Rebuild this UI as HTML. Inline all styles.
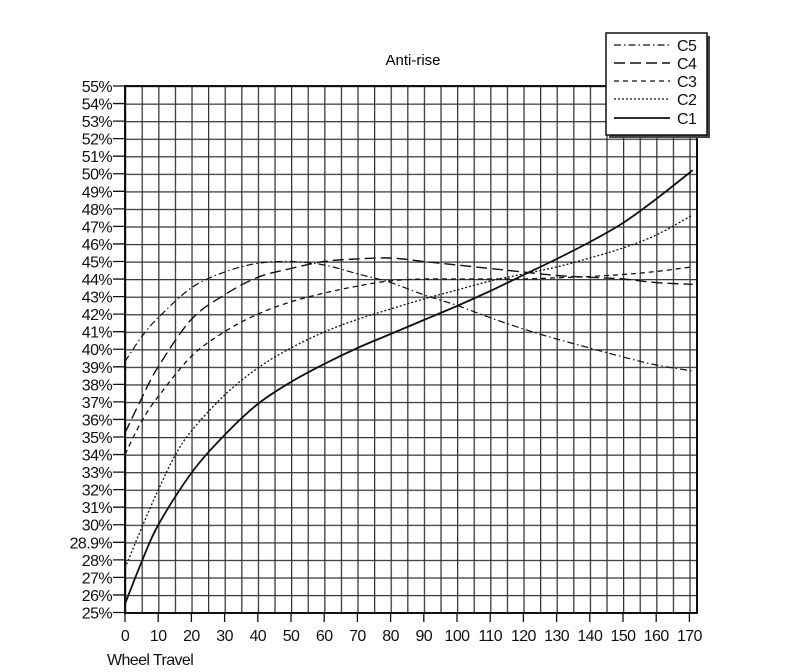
<!DOCTYPE html>
<html><head><meta charset="utf-8"><style>
html,body{margin:0;padding:0;background:#fff;}
svg{display:block;font-family:"Liberation Sans",sans-serif;}
.t{font-size:16px;letter-spacing:-0.6px;}
</style></head><body>
<svg id="s" width="800" height="672" viewBox="0 0 800 672" xmlns="http://www.w3.org/2000/svg">
<defs>
<pattern id="g" x="125" y="86" width="16.6" height="17.55" patternUnits="userSpaceOnUse">
<path d="M0.6 0V17.55M0 0.6H16.6" stroke="#333" stroke-width="1.3" fill="none"/>
</pattern>
</defs>
<rect x="0" y="0" width="800" height="672" fill="#fff"/>
<rect x="125" y="86" width="572" height="527" fill="url(#g)"/>
<rect x="125" y="86" width="572" height="527" fill="none" stroke="#111" stroke-width="2"/>
<text x="413" y="65" font-size="15" text-anchor="middle">Anti-rise</text>
<g stroke="#111" stroke-width="1.3">
<path d="M113 86H125M113 103.55H125M113 121.1H125M113 138.65H125M113 156.2H125M113 173.75H125M113 191.3H125M113 208.85H125M113 226.4H125M113 243.95H125M113 261.5H125M113 279.05H125M113 296.6H125M113 314.15H125M113 331.7H125M113 349.25H125M113 366.8H125M113 384.35H125M113 401.9H125M113 419.45H125M113 437H125M113 454.55H125M113 472.1H125M113 489.65H125M113 507.2H125M113 524.75H125M113 542.3H125M113 559.85H125M113 577.4H125M113 594.95H125M113 612.5H125"/>
<path d="M125 613V622M158.2 613V622M191.4 613V622M224.6 613V622M257.8 613V622M291 613V622M324.2 613V622M357.4 613V622M390.6 613V622M423.8 613V622M457 613V622M490.2 613V622M523.4 613V622M556.6 613V622M589.8 613V622M623 613V622M656.2 613V622M689.4 613V622"/>
</g>
<g class="t" text-anchor="end" fill="#111">
<text x="112" y="92">55%</text><text x="112" y="109.5">54%</text><text x="112" y="127">53%</text><text x="112" y="144.6">52%</text><text x="112" y="162.2">51%</text><text x="112" y="179.7">50%</text><text x="112" y="197.3">49%</text><text x="112" y="214.8">48%</text><text x="112" y="232.4">47%</text><text x="112" y="249.9">46%</text><text x="112" y="267.5">45%</text><text x="112" y="285">44%</text><text x="112" y="302.6">43%</text><text x="112" y="320.1">42%</text><text x="112" y="337.7">41%</text><text x="112" y="355.2">40%</text><text x="112" y="372.8">39%</text><text x="112" y="390.3">38%</text><text x="112" y="407.9">37%</text><text x="112" y="425.4">36%</text><text x="112" y="443">35%</text><text x="112" y="460.5">34%</text><text x="112" y="478.1">33%</text><text x="112" y="495.6">32%</text><text x="112" y="513.2">31%</text><text x="112" y="530.7">30%</text><text x="112" y="548.3">28.9%</text><text x="112" y="565.8">28%</text><text x="112" y="583.4">27%</text><text x="112" y="600.9">26%</text><text x="112" y="618.5">25%</text>
</g>
<g class="t" text-anchor="middle" fill="#111">
<text x="125" y="641">0</text><text x="158.2" y="641">10</text><text x="191.4" y="641">20</text><text x="224.6" y="641">30</text><text x="257.8" y="641">40</text><text x="291" y="641">50</text><text x="324.2" y="641">60</text><text x="357.4" y="641">70</text><text x="390.6" y="641">80</text><text x="423.8" y="641">90</text><text x="457" y="641">100</text><text x="490.2" y="641">110</text><text x="523.4" y="641">120</text><text x="556.6" y="641">130</text><text x="589.8" y="641">140</text><text x="623" y="641">150</text><text x="656.2" y="641">160</text><text x="689.4" y="641">170</text>
</g>
<text x="107" y="665" class="t" fill="#111">Wheel Travel</text>
<g fill="none" stroke="#111" stroke-linejoin="round">
<polyline class="c" stroke-width="1.8" points="125,604 141.6,562 158.2,525 191.4,473 224.6,435 257.8,404 291,382 324.2,364 357.4,348 390.6,334 423.8,320 457,306 490.2,291 523.4,275 556.6,259 589.8,242 623,223 656.2,199 692.7,170.2"/>
<polyline class="c" stroke-width="1.3" stroke-dasharray="2,2" points="125,568 141.6,528 158.2,490 174.8,456 191.4,431 224.6,395 257.8,368 291,348 324.2,332 357.4,319.4 390.6,309 423.8,299 457,290 490.2,281 523.4,274 556.6,267 589.8,258 623,248 656.2,235 692.7,215"/>
<polyline class="c" stroke-width="1.3" stroke-dasharray="5,4" points="125,454.5 141.6,421.2 158.2,396.6 191.4,356.3 224.6,331.7 257.8,314.1 291,301.8 324.2,293.1 357.4,286.1 390.6,280.8 423.8,279 457,279 490.2,279 523.4,279 556.6,277.8 589.8,276.5 623,274.5 656.2,271.5 692.7,266.8"/>
<polyline class="c" stroke-width="1.4" stroke-dasharray="11,5" points="125,433 141.6,398.4 158.2,366.8 191.4,319.4 224.6,294.8 257.8,277.3 291,268.5 324.2,261.5 357.4,258.9 390.6,258 423.8,261.5 457,265 490.2,268.5 523.4,272 556.6,275.5 589.8,277.3 623,279 656.2,282.6 692.7,284.3"/>
<polyline class="c" stroke-width="1.2" stroke-dasharray="7,3,1.5,3" points="125,361.5 141.6,336.9 158.2,317.7 191.4,287.8 224.6,272 257.8,263.3 291,261.5 324.2,265 357.4,273.8 390.6,282.6 423.8,294.8 457,305.4 490.2,317.7 523.4,329 556.6,339 589.8,348 623,357 656.2,365 692.7,371"/>
</g>
<rect x="609" y="36" width="101" height="102" fill="#444"/>
<rect x="606" y="33" width="101" height="102" fill="#fff" stroke="#111" stroke-width="1.5"/>
<g fill="none" stroke="#111">
<line x1="614" y1="45" x2="670" y2="45" stroke-width="1.2" stroke-dasharray="7,3,1.5,3"/>
<line x1="614" y1="63" x2="670" y2="63" stroke-width="1.4" stroke-dasharray="11,5"/>
<line x1="614" y1="81" x2="670" y2="81" stroke-width="1.3" stroke-dasharray="5,4"/>
<line x1="614" y1="99" x2="670" y2="99" stroke-width="1.3" stroke-dasharray="2,2"/>
<line x1="614" y1="118" x2="670" y2="118" stroke-width="1.8"/>
</g>
<g class="t" fill="#111">
<text x="677" y="51">C5</text><text x="677" y="69">C4</text><text x="677" y="87">C3</text><text x="677" y="105">C2</text><text x="677" y="124">C1</text>
</g>
</svg>
<script>
(function(){
var ns="http://www.w3.org/2000/svg";
var pls=document.querySelectorAll("polyline.c");
for(var k=0;k<pls.length;k++){
var pl=pls[k];
var pts=pl.getAttribute("points").trim().split(/\s+/).map(function(s){var a=s.split(",");return [+a[0],+a[1]];});
var d="M"+pts[0][0]+" "+pts[0][1];
for(var i=0;i<pts.length-1;i++){
var p0=pts[i>0?i-1:i],p1=pts[i],p2=pts[i+1],p3=pts[i+2<pts.length?i+2:i+1];
var c1x=p1[0]+(p2[0]-p0[0])/6,c1y=p1[1]+(p2[1]-p0[1])/6;
var c2x=p2[0]-(p3[0]-p1[0])/6,c2y=p2[1]-(p3[1]-p1[1])/6;
d+=" C"+c1x.toFixed(2)+" "+c1y.toFixed(2)+" "+c2x.toFixed(2)+" "+c2y.toFixed(2)+" "+p2[0]+" "+p2[1];
}
var p=document.createElementNS(ns,"path");
p.setAttribute("d",d);
["stroke-width","stroke-dasharray"].forEach(function(a){var v=pl.getAttribute(a);if(v)p.setAttribute(a,v);});
pl.parentNode.replaceChild(p,pl);
}
})();
</script>
</body></html>
